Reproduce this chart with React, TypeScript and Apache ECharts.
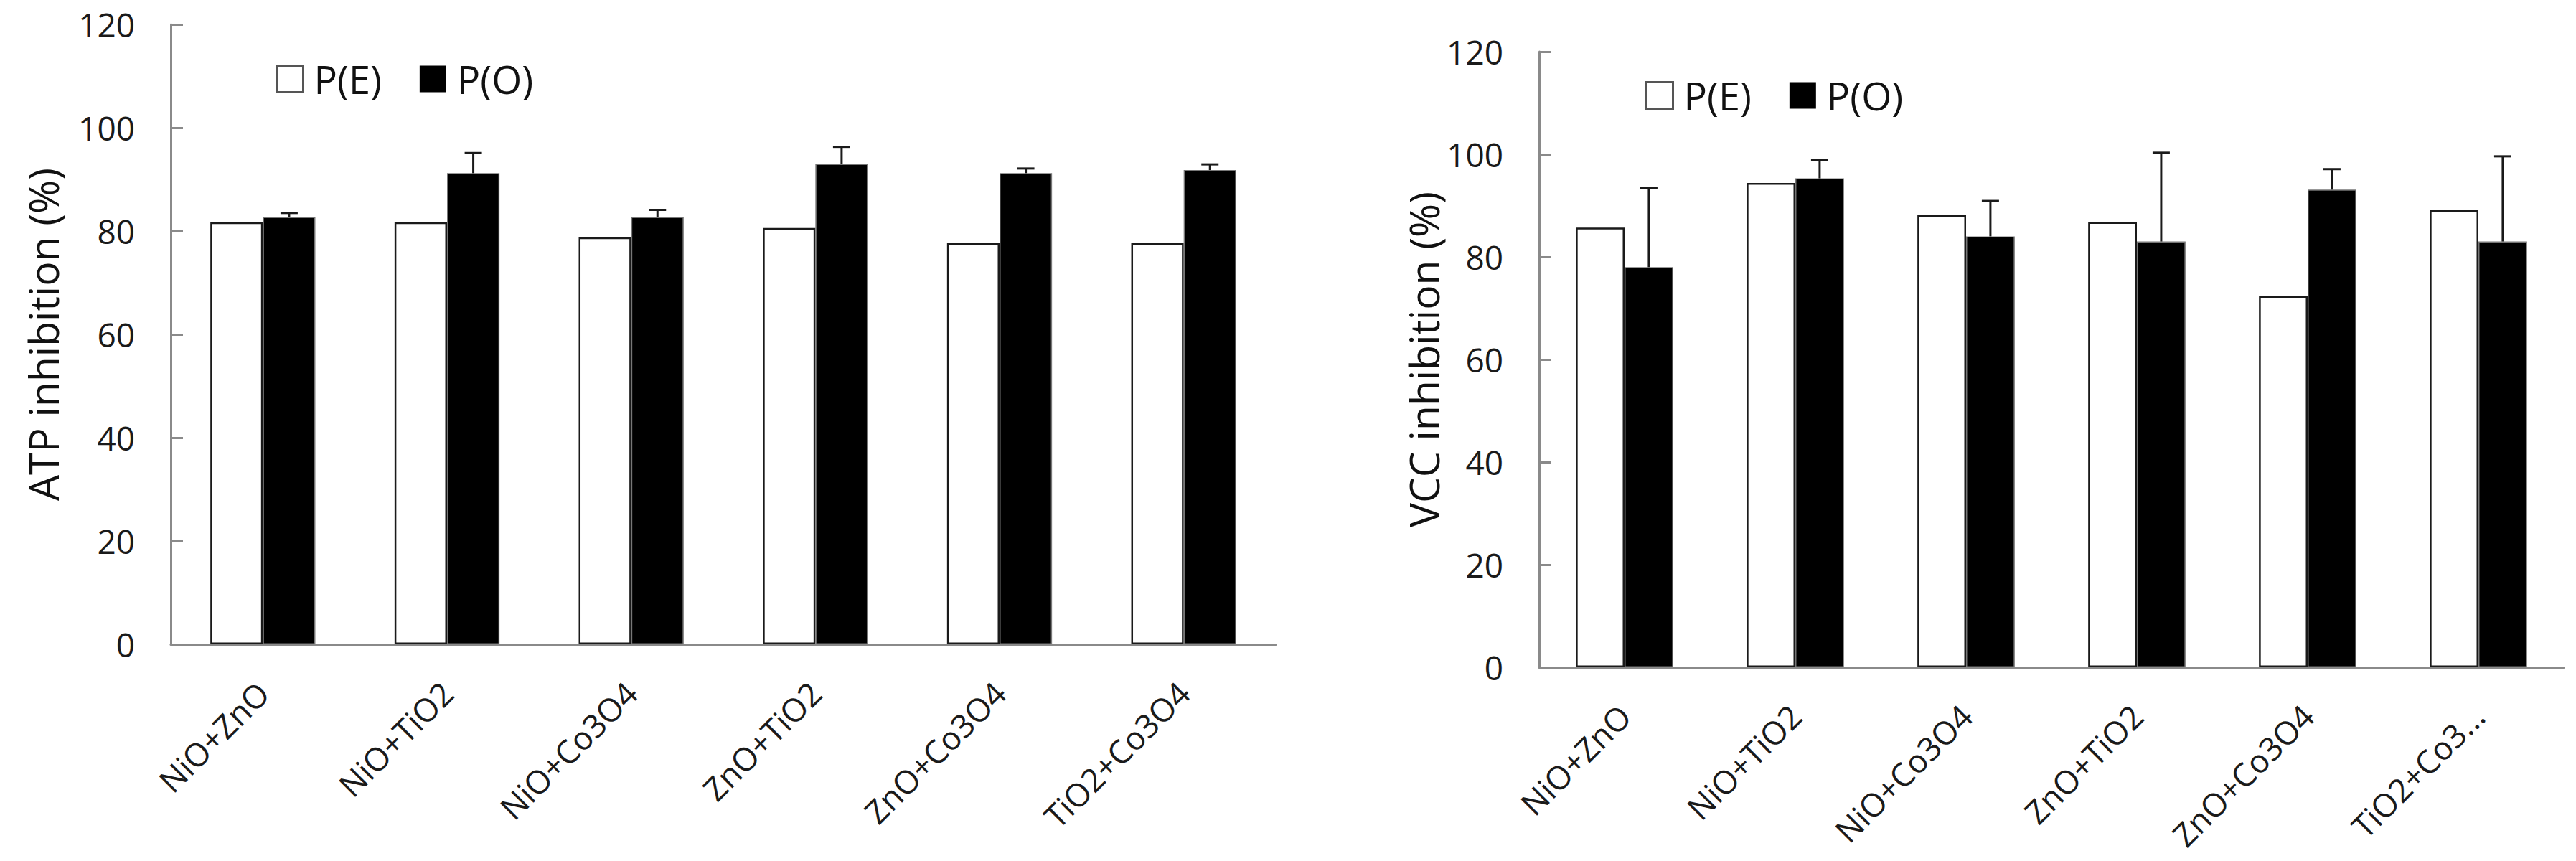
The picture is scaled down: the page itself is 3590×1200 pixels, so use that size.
import React, { useEffect, useRef } from "react";
import * as echarts from "echarts";

const categoriesATP = ["NiO+ZnO", "NiO+TiO2", "NiO+Co3O4", "ZnO+TiO2", "ZnO+Co3O4", "TiO2+Co3O4"];
const categoriesVCC = ["NiO+ZnO", "NiO+TiO2", "NiO+Co3O4", "ZnO+TiO2", "ZnO+Co3O4", "TiO2+Co3..."];
const atpPE = [81.7, 81.7, 78.8, 80.6, 77.7, 77.7];
const atpPO = [82.7, 91.2, 82.7, 93.0, 91.2, 91.8];
const atpErr = [0.8, 3.9, 1.4, 3.3, 0.9, 1.1];
const vccPE = [85.7, 94.4, 88.1, 86.8, 72.3, 89.1];
const vccPO = [78.0, 95.3, 84.0, 83.0, 93.1, 83.0];
const vccErr = [15.4, 3.6, 6.9, 17.3, 4.0, 16.6];
const yTicks = { min: 0, max: 120, interval: 20 };
const seriesNames = ["P(E)", "P(O)"];

const FONT = "'Open Sans', 'Noto Sans', sans-serif";
const AXIS_GRAY = "#8a8a8a";
const GAP = 0.43;

function errorRender(params: any, api: any) {
  const x = api.value(0);
  const v = api.value(1);
  const e = api.value(2);
  const base = api.coord([x, v]);
  const top = api.coord([x, v + e]);
  const band = api.size([1, 0])[0];
  const cx = base[0] + (band * (1 - GAP)) / 4;
  const style = { stroke: "#1a1a1a", lineWidth: 3 };
  return {
    type: "group",
    children: [
      { type: "line", shape: { x1: cx, y1: base[1], x2: cx, y2: top[1] }, style },
      { type: "line", shape: { x1: cx - 12, y1: top[1], x2: cx + 12, y2: top[1] }, style },
    ],
  };
}

function makeX(idx: number, cats: string[]) {
  return {
    type: "category",
    gridIndex: idx,
    data: cats,
    axisLine: { lineStyle: { color: AXIS_GRAY, width: 3 } },
    axisTick: { inside: true, length: 18, lineStyle: { color: AXIS_GRAY, width: 3 } },
    axisLabel: {
      rotate: 45,
      margin: 60,
      interval: 0,
      fontSize: 45,
      fontFamily: FONT,
      color: "#1a1a1a",
    },
  };
}

function makeY(idx: number, name: string, gap: number) {
  return {
    type: "value",
    gridIndex: idx,
    min: yTicks.min,
    max: yTicks.max,
    interval: yTicks.interval,
    name,
    nameLocation: "middle",
    nameGap: gap,
    nameRotate: 90,
    nameTextStyle: { fontSize: 57, fontFamily: FONT, color: "#111" },
    axisLine: { show: true, lineStyle: { color: AXIS_GRAY, width: 3 } },
    axisTick: { show: true, inside: true, length: 17, lineStyle: { color: AXIS_GRAY, width: 3 } },
    splitLine: { show: false },
    axisLabel: { margin: 50, fontSize: 46, fontFamily: FONT, color: "#1a1a1a" },
  };
}

function makeLegend(left: number, top: number) {
  return {
    left,
    top,
    orient: "horizontal",
    itemWidth: 37,
    itemHeight: 37,
    itemGap: 53,
    icon: "rect",
    textStyle: { fontSize: 54, fontFamily: FONT, color: "#111", lineHeight: 37, padding: [0, 0, 0, 10] },
    data: [
      { name: seriesNames[0], itemStyle: { color: "#fff", borderColor: "#555", borderWidth: 3 } },
      { name: seriesNames[1], itemStyle: { color: "#000", borderColor: "#000", borderWidth: 0 } },
    ],
  };
}

function barPair(idx: number, pe: number[], po: number[]) {
  return [
    {
      name: seriesNames[0],
      type: "bar",
      xAxisIndex: idx,
      yAxisIndex: idx,
      data: pe,
      barGap: "0%",
      barCategoryGap: GAP * 100 + "%",
      itemStyle: { color: "#fff", borderColor: "#1a1a1a", borderWidth: 2.5 },
    },
    {
      name: seriesNames[1],
      type: "bar",
      xAxisIndex: idx,
      yAxisIndex: idx,
      data: po,
      barGap: "0%",
      barCategoryGap: GAP * 100 + "%",
      itemStyle: { color: "#000", borderColor: "#777", borderWidth: 1.5 },
    },
  ];
}

function errSeries(idx: number, po: number[], err: number[]) {
  return {
    type: "custom",
    name: "err" + idx,
    xAxisIndex: idx,
    yAxisIndex: idx,
    renderItem: errorRender,
    encode: { x: 0, y: 1 },
    data: po.map((v, i) => [i, v, err[i]]),
    z: 10,
  };
}

export default function App() {
  const ref = useRef<HTMLDivElement>(null);
  useEffect(() => {
    document.body.style.margin = "0";
    if (!ref.current) return;
    const chart = echarts.init(ref.current, undefined, { renderer: "svg" });
    chart.setOption({
      animation: false,
      backgroundColor: "#fff",
      grid: [
        { left: 238, top: 34, width: 1540, height: 864 },
        { left: 2145, top: 72, width: 1428, height: 858 },
      ],
      legend: [makeLegend(379, 78), makeLegend(2288, 101)],
      xAxis: [makeX(0, categoriesATP), makeX(1, categoriesVCC)],
      yAxis: [makeY(0, "ATP inhibition (%)", 150), makeY(1, "VCC inhibition (%)", 122)],
      series: [
        ...barPair(0, atpPE, atpPO),
        ...barPair(1, vccPE, vccPO),
        errSeries(0, atpPO, atpErr),
        errSeries(1, vccPO, vccErr),
      ],
    });
    return () => chart.dispose();
  }, []);
  return <div ref={ref} style={{ width: 3590, height: 1200 }} />;
}
